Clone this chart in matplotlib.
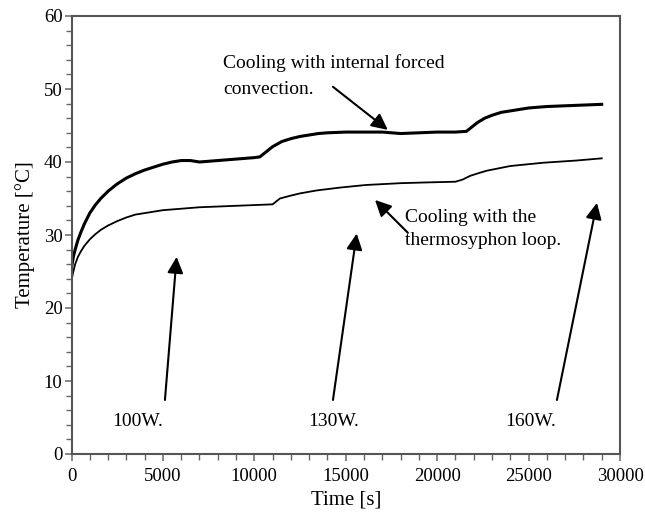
import matplotlib
matplotlib.use("Agg")
import matplotlib.pyplot as plt
from matplotlib.ticker import MultipleLocator

# ---- data ----
forced_t = [0, 100, 200, 350, 500, 700, 1000, 1300, 1600, 2000, 2500, 3000, 3500, 4000,
            4500, 5000, 5500, 6000, 6500, 7000, 7500, 8000, 8500, 9000, 9500, 10000,
            10300, 10600, 11000, 11500, 12000, 12500, 13000, 13500, 14000, 15000, 16000,
            17000, 18000, 19000, 20000, 21000, 21600, 21900, 22200, 22600, 23000, 23500,
            24000, 24500, 25000, 26000, 27000, 28000, 29000]
forced_T = [25.5, 27.0, 28.0, 29.3, 30.3, 31.5, 33.0, 34.1, 35.0, 36.0, 37.0, 37.8, 38.4, 38.9,
            39.3, 39.7, 40.0, 40.2, 40.2, 40.0, 40.1, 40.2, 40.3, 40.4, 40.5, 40.6,
            40.7, 41.3, 42.1, 42.8, 43.2, 43.5, 43.7, 43.9, 44.0, 44.1, 44.1,
            44.1, 43.9, 44.0, 44.1, 44.1, 44.2, 44.8, 45.4, 46.0, 46.4, 46.8,
            47.0, 47.2, 47.4, 47.6, 47.7, 47.8, 47.9]

thermo_t = [0, 100, 200, 350, 500, 700, 1000, 1300, 1600, 2000, 2500, 3000, 3500, 4000,
            4500, 5000, 6000, 7000, 8000, 9000, 10000, 11000, 11400, 12000, 12500, 13400,
            14700, 16100, 18000, 19400, 21000, 21400, 21800, 22300, 22700, 23300, 24000,
            25000, 25800, 26700, 27600, 28300, 29000]
thermo_T = [23.8, 25.0, 26.0, 27.0, 27.7, 28.5, 29.4, 30.1, 30.7, 31.3, 31.9, 32.4, 32.8, 33.0,
            33.2, 33.4, 33.6, 33.8, 33.9, 34.0, 34.1, 34.2, 35.0, 35.4, 35.7, 36.1,
            36.5, 36.85, 37.1, 37.2, 37.3, 37.6, 38.1, 38.5, 38.8, 39.1, 39.45,
            39.7, 39.9, 40.05, 40.2, 40.35, 40.5]

x_ticks = [0, 5000, 10000, 15000, 20000, 25000, 30000]
y_ticks = [0, 10, 20, 30, 40, 50, 60]
x_label = "Time [s]"
y_label = "Temperature [°C]"

power_labels = ["100W.", "130W.", "160W."]
power_label_xy = [(2200, 4.4), (12930, 4.4), (23700, 4.4)]
power_arrow_tail = [(5110, 7.4), (14300, 7.4), (26550, 7.4)]
power_arrow_tip = [(5750, 27.0), (15600, 30.2), (28740, 34.4)]

note_forced = "Cooling with internal forced\nconvection."
note_forced_xy = (8300, 51.8)
note_forced_tail = (14300, 50.3)
note_forced_tip = (17300, 44.4)

note_thermo = "Cooling with the\nthermosyphon loop."
note_thermo_xy = (18240, 30.8)
note_thermo_tail = (18400, 30.3)
note_thermo_tip = (16600, 34.8)

# ---- figure ----
plt.rcParams['font.family'] = ['Liberation Serif', 'DejaVu Serif']
fig = plt.figure(figsize=(6.45, 5.12), dpi=100)
ax = fig.add_axes([71.5 / 645, 58 / 512, (620 - 71.5) / 645, (454 - 16) / 512])

ax.plot(forced_t, forced_T, color='black', lw=2.2)
ax.plot(thermo_t, thermo_T, color='black', lw=1.3)

ax.set_xlim(0, 30000)
ax.set_ylim(0, 60)
ax.set_xticks(x_ticks)
ax.set_yticks(y_ticks)
ax.xaxis.set_minor_locator(MultipleLocator(1000))
ax.yaxis.set_minor_locator(MultipleLocator(2))
ax.tick_params(which='both', direction='out', color='#666666', labelsize=13.5)
ax.tick_params(axis='x', which='major', pad=5)
ax.tick_params(axis='y', which='major', pad=1.5)
ax.tick_params(which='major', length=5, width=1.1)
ax.tick_params(which='minor', length=4, width=1.0)
for s in ax.spines.values():
    s.set_color('#555555')
    s.set_linewidth(1.5)

ax.set_xlabel(x_label, fontsize=15, labelpad=4)
ax.set_ylabel(y_label, fontsize=15, labelpad=6)

arrow_kw = dict(arrowstyle='-|>,head_length=0.65,head_width=0.32', mutation_scale=15,
                color='black', lw=1.5, shrinkA=0, shrinkB=0)

for lab, xy in zip(power_labels, power_label_xy):
    ax.text(xy[0], xy[1], lab, fontsize=14, ha='left', va='center')
for tail, tip in zip(power_arrow_tail, power_arrow_tip):
    ax.annotate('', xy=tip, xytext=tail, arrowprops=arrow_kw)

ax.text(*note_forced_xy, note_forced, fontsize=14, ha='left', va='center', linespacing=1.65)
ax.annotate('', xy=note_forced_tip, xytext=note_forced_tail, arrowprops=arrow_kw)
ax.text(*note_thermo_xy, note_thermo, fontsize=14, ha='left', va='center', linespacing=1.5)
ax.annotate('', xy=note_thermo_tip, xytext=note_thermo_tail, arrowprops=arrow_kw)

fig.savefig("out.png", dpi=100)
